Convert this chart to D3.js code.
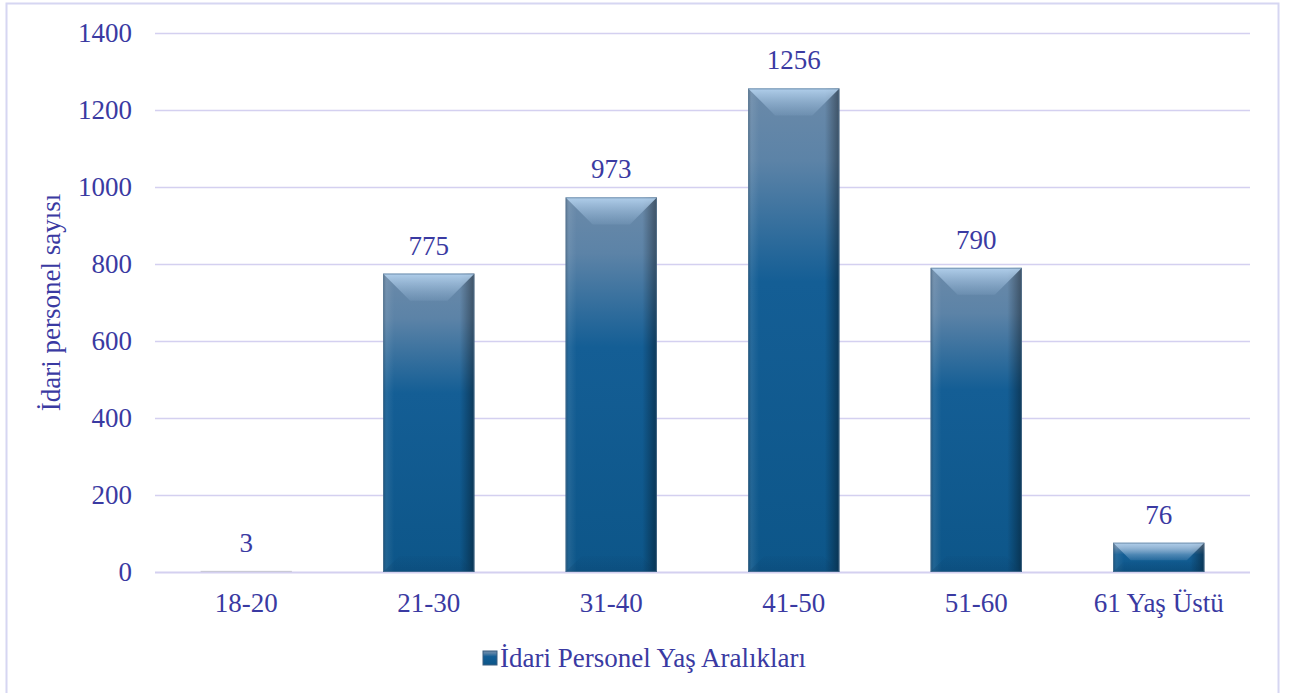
<!DOCTYPE html>
<html>
<head>
<meta charset="utf-8">
<script src="https://cdn.jsdelivr.net/npm/d3@7"></script>
<style>
  body { margin: 0; background: #fff; }
</style>
</head>
<body>
<svg width="1295" height="693"></svg>
<script>
const categories = ["18-20", "21-30", "31-40", "41-50", "51-60", "61 Yaş Üstü"];
const values = [3, 775, 973, 1256, 790, 76];
const yTicks = [0, 200, 400, 600, 800, 1000, 1200, 1400];
const seriesName = "İdari Personel Yaş Aralıkları";
const yTitle = "İdari personel sayısı";

const svg = d3.select("svg"),
    textColor = "#3a3aa2",
    gridColor = "#d4d0f0",
    fontFamily = "Liberation Serif",
    fontSize = "27px";

const margin = {left: 155, right: 45, top: 33, bottom: 121};
const width = 1295, height = 693;

const x = d3.scaleBand()
    .domain(categories)
    .range([margin.left, width - margin.right])
    .paddingInner(0.5)
    .paddingOuter(0.25);

const y = d3.scaleLinear()
    .domain([0, 1400])
    .range([height - margin.bottom, margin.top]);

// outer frame
svg.append("rect")
    .attr("x", 6.5).attr("y", 3.5)
    .attr("width", 1272).attr("height", 720)
    .attr("fill", "none")
    .attr("stroke", "#d6d6f2")
    .attr("stroke-width", 2);

const defs = svg.append("defs");
const grad = defs.append("linearGradient")
    .attr("id", "barGrad")
    .attr("x1", 0).attr("y1", 0).attr("x2", 0).attr("y2", 1);
grad.append("stop").attr("offset", "0%").attr("stop-color", "#6b8aa9");
grad.append("stop").attr("offset", "15%").attr("stop-color", "#5c83a7");
grad.append("stop").attr("offset", "40%").attr("stop-color", "#145e95");
grad.append("stop").attr("offset", "100%").attr("stop-color", "#0d5689");

const sideGrad = defs.append("linearGradient")
    .attr("id", "sideGrad")
    .attr("x1", 0).attr("y1", 0).attr("x2", 1).attr("y2", 0);
sideGrad.append("stop").attr("offset", "0%").attr("stop-color", "#000").attr("stop-opacity", 0.2);
sideGrad.append("stop").attr("offset", "4%").attr("stop-color", "#fff").attr("stop-opacity", 0.08);
sideGrad.append("stop").attr("offset", "12%").attr("stop-color", "#fff").attr("stop-opacity", 0);
sideGrad.append("stop").attr("offset", "84%").attr("stop-color", "#000").attr("stop-opacity", 0);
sideGrad.append("stop").attr("offset", "100%").attr("stop-color", "#000").attr("stop-opacity", 0.4);

const topGrad = defs.append("linearGradient")
    .attr("id", "topGrad")
    .attr("x1", 0).attr("y1", 0).attr("x2", 0).attr("y2", 1);
topGrad.append("stop").attr("offset", "0%").attr("stop-color", "#b4d2ee").attr("stop-opacity", 0.95);
topGrad.append("stop").attr("offset", "100%").attr("stop-color", "#9bbcdc").attr("stop-opacity", 0.15);

const botGrad = defs.append("linearGradient")
    .attr("id", "botGrad")
    .attr("x1", 0).attr("y1", 1).attr("x2", 0).attr("y2", 0);
botGrad.append("stop").attr("offset", "0%").attr("stop-color", "#0a3d66").attr("stop-opacity", 0.3);
botGrad.append("stop").attr("offset", "100%").attr("stop-color", "#0a3d66").attr("stop-opacity", 0.05);

// gridlines
svg.append("g")
    .selectAll("line")
    .data(yTicks)
    .enter().append("line")
    .attr("x1", margin.left)
    .attr("x2", width - margin.right)
    .attr("y1", d => Math.round(y(d)) + 0.5)
    .attr("y2", d => Math.round(y(d)) + 0.5)
    .attr("stroke", gridColor)
    .attr("stroke-width", d => d === 0 ? 2 : 1.3);

function label(sel) {
    return sel.style("font-family", fontFamily)
        .attr("font-size", fontSize)
        .attr("fill", textColor);
}

// y tick labels
svg.append("g")
    .selectAll("text")
    .data(yTicks)
    .enter().append("text")
    .attr("x", 132)
    .attr("y", d => y(d))
    .attr("dy", "0.33em")
    .attr("text-anchor", "end")
    .call(label)
    .text(d => d);

// bars
const bars = svg.append("g")
    .selectAll("g")
    .data(values)
    .enter().append("g");

function bx(d) { return x(categories[values.indexOf(d)]); }

bars.append("rect")
    .attr("x", bx)
    .attr("y", d => y(d))
    .attr("width", x.bandwidth())
    .attr("height", d => y(0) - y(d))
    .attr("fill", d => d < 10 ? "#c9c9d6" : "url(#barGrad)");

const big = bars.filter(d => d >= 10);

big.append("rect")
    .attr("x", bx)
    .attr("y", d => y(d))
    .attr("width", x.bandwidth())
    .attr("height", d => y(0) - y(d))
    .attr("fill", "url(#sideGrad)");

// bevel on the top edge
big.append("path")
    .attr("fill", "url(#topGrad)")
    .attr("d", d => {
        const x0 = bx(d), x1 = x0 + x.bandwidth();
        const t = y(d), b = Math.min(27, (y(0) - y(d)) * 0.6);
        return "M" + x0 + "," + t + "L" + x1 + "," + t +
            "L" + (x1 - b) + "," + (t + b) + "L" + (x0 + b) + "," + (t + b) + "Z";
    });

// bevel on the bottom edge
big.append("path")
    .attr("fill", "url(#botGrad)")
    .attr("d", d => {
        const x0 = bx(d), x1 = x0 + x.bandwidth();
        const bt = y(0), b = Math.min(16, (y(0) - y(d)) * 0.35);
        return "M" + x0 + "," + bt + "L" + x1 + "," + bt +
            "L" + (x1 - b) + "," + (bt - b) + "L" + (x0 + b) + "," + (bt - b) + "Z";
    });

big.append("rect")
    .attr("x", d => bx(d) + 0.5)
    .attr("y", d => y(d) + 0.5)
    .attr("width", x.bandwidth() - 1)
    .attr("height", d => y(0) - y(d) - 1)
    .attr("fill", "none")
    .attr("stroke", "#5a7a98")
    .attr("stroke-opacity", 0.6);

// value labels
svg.append("g")
    .selectAll("text")
    .data(values)
    .enter().append("text")
    .attr("x", (d, i) => x(categories[i]) + x.bandwidth() / 2)
    .attr("y", d => y(d) - 19)
    .attr("text-anchor", "middle")
    .call(label)
    .text(d => d);

// x labels
svg.append("g")
    .selectAll("text")
    .data(categories)
    .enter().append("text")
    .attr("x", d => x(d) + x.bandwidth() / 2)
    .attr("y", y(0) + 40)
    .attr("text-anchor", "middle")
    .call(label)
    .text(d => d);

// y title
svg.append("text")
    .attr("transform", "translate(60," + y(700) + ") rotate(-90)")
    .attr("text-anchor", "middle")
    .call(label)
    .text(yTitle);

// legend
const legend = svg.append("g").attr("transform", "translate(483,651)");
legend.append("rect")
    .attr("width", 14).attr("height", 14)
    .attr("fill", "url(#barGrad)")
    .attr("stroke", "#3d5f80");
legend.append("text")
    .attr("x", 17)
    .attr("y", 7)
    .attr("dy", "0.33em")
    .call(label)
    .text(seriesName);
</script>
</body>
</html>
